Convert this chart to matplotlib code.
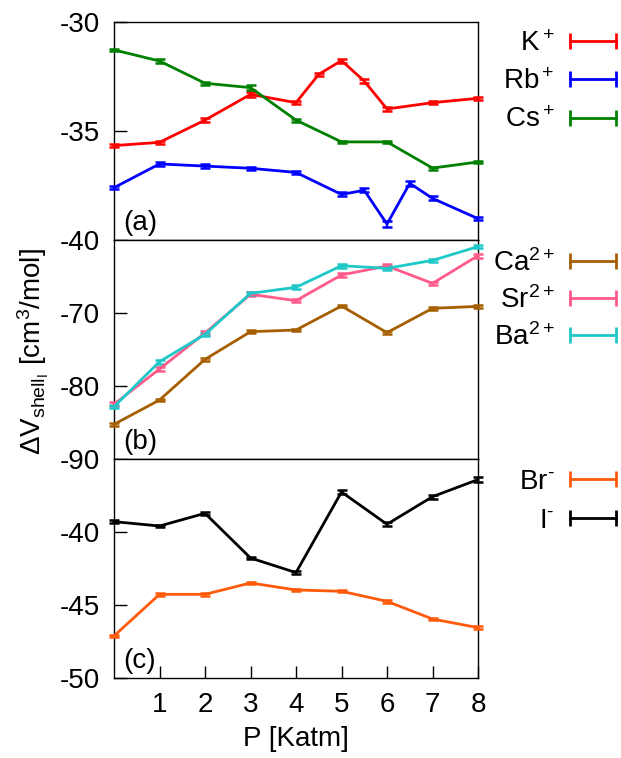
import matplotlib
matplotlib.use("Agg")
import matplotlib.pyplot as plt
from matplotlib.lines import Line2D

plt.rcParams['font.family'] = ['Liberation Sans', 'DejaVu Sans']
plt.rcParams['mathtext.fontset'] = 'custom'
plt.rcParams['mathtext.rm'] = 'Liberation Sans'
plt.rcParams['mathtext.it'] = 'Liberation Sans:italic'
plt.rcParams['mathtext.sf'] = 'Liberation Sans'
plt.rcParams['axes.unicode_minus'] = False

# ---------------- data ----------------
# panel (a)
k_x = [0, 1, 2, 3, 4, 4.5, 5, 5.5, 6, 7, 8]
k_y = [-35.67, -35.52, -34.50, -33.32, -33.70, -32.40, -31.77, -32.71, -33.99, -33.70, -33.50]
k_e = [0.08, 0.08, 0.08, 0.10, 0.08, 0.08, 0.09, 0.08, 0.09, 0.08, 0.08]

rb_x = [0, 1, 2, 3, 4, 5, 5.5, 6, 6.5, 7, 8]
rb_y = [-37.60, -36.51, -36.61, -36.71, -36.90, -37.91, -37.72, -39.27, -37.40, -38.09, -39.02]
rb_e = [0.08, 0.08, 0.08, 0.08, 0.08, 0.09, 0.09, 0.12, 0.10, 0.09, 0.08]

cs_x = [0, 1, 2, 3, 4, 5, 6, 7, 8]
cs_y = [-31.28, -31.79, -32.81, -33.01, -34.50, -35.50, -35.50, -36.70, -36.42]
cs_e = [0.06, 0.07, 0.06, 0.10, 0.07, 0.06, 0.06, 0.07, 0.06]

# panel (b)
ion2_x = [0, 1, 2, 3, 4, 5, 6, 7, 8]
ca_y = [-85.25, -81.92, -76.35, -72.56, -72.33, -69.04, -72.69, -69.36, -69.09]
ca_e = [0.2, 0.2, 0.2, 0.2, 0.2, 0.2, 0.2, 0.2, 0.2]
sr_y = [-82.50, -77.67, -72.74, -67.44, -68.31, -64.79, -63.56, -65.94, -62.15]
sr_e = [0.25, 0.25, 0.25, 0.25, 0.25, 0.25, 0.25, 0.25, 0.25]
ba_y = [-82.83, -76.67, -72.93, -67.31, -66.48, -63.52, -63.88, -62.79, -60.91]
ba_e = [0.25, 0.25, 0.25, 0.25, 0.25, 0.25, 0.25, 0.25, 0.25]

# panel (c)
anion_x = [0, 1, 2, 3, 4, 5, 6, 7, 8]
br_y = [-47.12, -44.27, -44.27, -43.49, -43.97, -44.06, -44.75, -45.96, -46.55]
br_e = [0.08, 0.08, 0.08, 0.08, 0.08, 0.08, 0.08, 0.08, 0.08]
i_y = [-39.29, -39.59, -38.72, -41.78, -42.78, -37.26, -39.47, -37.58, -36.41]
i_e = [0.08, 0.08, 0.12, 0.10, 0.12, 0.17, 0.15, 0.14, 0.15]

xticks = [1, 2, 3, 4, 5, 6, 7, 8]
yticks_a = [-40, -35, -30]
yticks_b = [-90, -80, -70]
yticks_c = [-50, -45, -40]
ylim_a = (-40, -30)
ylim_b = (-90, -60)
ylim_c = (-50, -35)

c_k, c_rb, c_cs = '#ff0000', '#0000ff', '#008000'
c_ca, c_sr, c_ba = '#a65f00', '#ff5a8a', '#1fc8c8'
c_br, c_i = '#ff5a0a', '#000000'

panels = [
    ('(a)', ylim_a, yticks_a,
     [(k_x, k_y, k_e, c_k, 'K$^+$'), (rb_x, rb_y, rb_e, c_rb, 'Rb$^+$'), (cs_x, cs_y, cs_e, c_cs, 'Cs$^+$')]),
    ('(b)', ylim_b, yticks_b,
     [(ion2_x, ca_y, ca_e, c_ca, 'Ca$^{2+}$'), (ion2_x, sr_y, sr_e, c_sr, 'Sr$^{2+}$'), (ion2_x, ba_y, ba_e, c_ba, 'Ba$^{2+}$')]),
    ('(c)', ylim_c, yticks_c,
     [(anion_x, br_y, br_e, c_br, r'Br$^{\text{-}}$'), (anion_x, i_y, i_e, c_i, r'I$^{\text{-}}$')]),
]

W, H = 621, 758
fig = plt.figure(figsize=(W / 100, H / 100), dpi=100)
left, right = 114 / W, 478 / W
edges = [22, 240, 459, 678]
legend_tops = [31, 249, 469]
legend_spacing = [0.44, 0.33, 0.46]
legend_right = 624.5

FS = 20
for idx, (tag, ylim, yt, series) in enumerate(panels):
    top_px, bot_px = edges[idx], edges[idx + 1]
    ax = fig.add_axes([left, 1 - bot_px / H, right - left, (bot_px - top_px) / H])
    handles = []
    for x, y, e, col, lab in series:
        ax.errorbar(x, y, yerr=e, color=col, lw=2, elinewidth=1.6, capsize=3.5,
                    capthick=1.8, clip_on=False, zorder=3)
        handles.append(Line2D([], [], color=col, lw=2, marker='|', markersize=11,
                              markeredgewidth=2, label=lab))
    ax.set_xlim(0, 8)
    ax.set_ylim(*ylim)
    ax.set_yticks(yt)
    ax.set_xticks(xticks)
    ax.tick_params(direction='in', length=9, width=1, labelsize=FS, pad=10,
                   top=False, right=False)
    if idx < 2:
        ax.tick_params(bottom=False, labelbottom=False)
    else:
        ax.set_xlabel('P [Katm]', fontsize=FS, labelpad=6)
    for sp in ax.spines.values():
        sp.set_linewidth(1.0)
    ax.text(0.025, 0.02, tag, transform=ax.transAxes, fontsize=FS, ha='left', va='bottom')
    ax.legend(handles=handles, loc='upper right',
              bbox_to_anchor=(legend_right / W, 1 - legend_tops[idx] / H),
              bbox_transform=fig.transFigure,
              frameon=False, fontsize=FS, markerfirst=False, numpoints=2,
              handlelength=2.26, handletextpad=0.25, labelspacing=legend_spacing[idx],
              borderaxespad=0, borderpad=0)

fig.text(33 / W, 1 - 352 / H,
         r'ΔV$_{\mathrm{shell}_{\mathrm{I}}}$ [cm$^3$/mol]',
         rotation=90, ha='center', va='center', fontsize=FS)

fig.savefig('out.png', dpi=100)
